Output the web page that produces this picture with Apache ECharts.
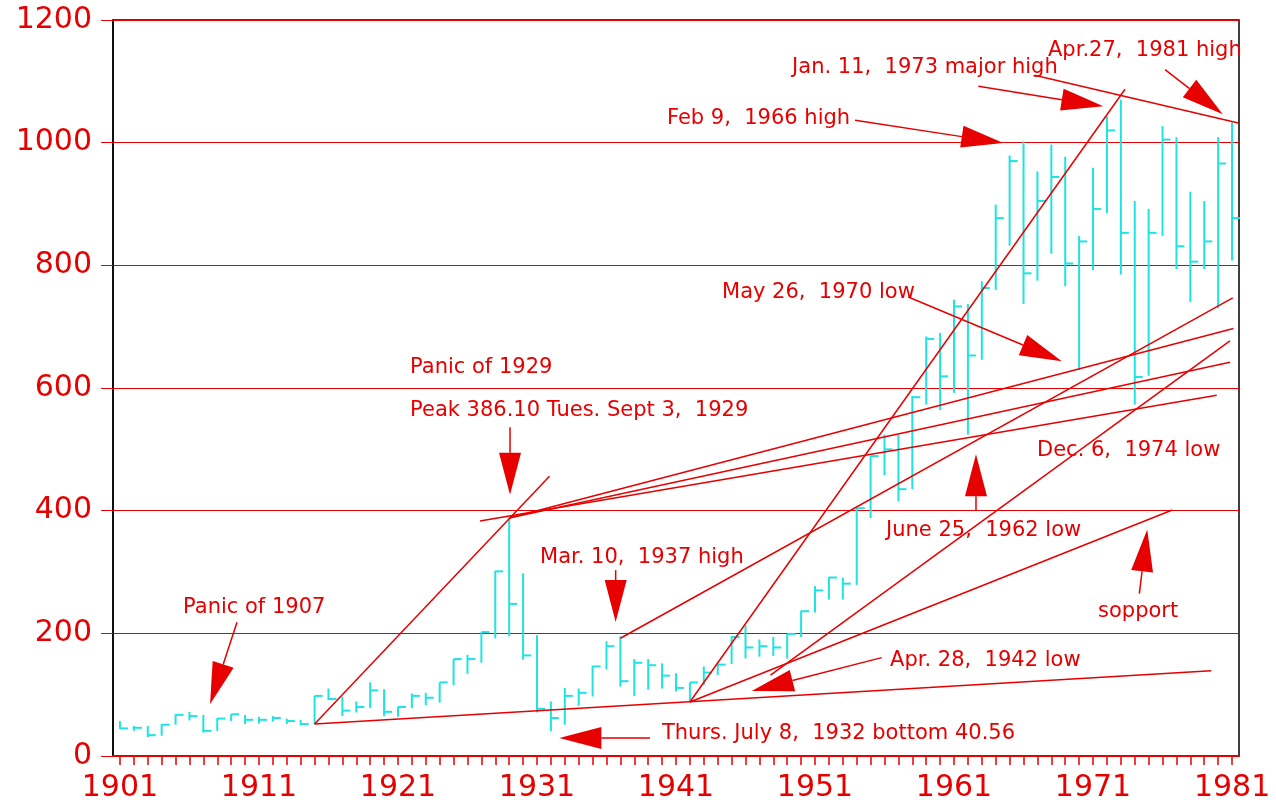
<!DOCTYPE html>
<html>
<head>
<meta charset="utf-8">
<title>Dow 1901-1981</title>
<script src="https://cdn.jsdelivr.net/npm/echarts@6/dist/echarts.min.js"></script>
<style>
	html, body { margin: 0; padding: 0; background: #fff; }
	#main { width: 1276px; height: 806px; }
</style>
</head>
<body>
<div id="main"></div>
<script>
// yearly bars: high / low / close
const years = [];
for (let y = 1901; y <= 1981; y++) years.push(String(y));

const highs = [57, 49, 49, 52, 68, 72, 67, 62, 68, 67,
	64, 65, 61, 59, 98, 110, 97, 89, 120, 109,
	80, 102, 103, 120, 158, 165, 202, 302, 386.1, 298,
	197, 89, 111, 110, 147, 187, 195, 158, 158, 151,
	135, 120, 146, 151, 195, 213, 190, 194, 199, 237,
	277, 292, 291, 405, 489, 524, 524, 587, 684, 690,
	744, 737, 774, 899, 979, 1002, 953, 997, 977, 848,
	959, 1043, 1070, 905, 892, 1027, 1009, 920, 905, 1009,
	1033];
const lows = [44, 41, 31, 33, 51, 58, 38, 41, 57, 52,
	53, 56, 52, 50, 52, 91, 65, 71, 78, 65,
	64, 78, 83, 87, 115, 134, 152, 192, 195, 157,
	71, 40.56, 51, 82, 97, 141, 113, 98, 108, 110,
	105, 89, 116, 132, 150, 159, 162, 163, 159, 194,
	234, 255, 255, 279, 388, 458, 415, 435, 573, 564,
	592, 524, 646, 760, 832, 737, 775, 819, 766, 629,
	792, 885, 785, 573, 620, 848, 794, 740, 794, 730,
	808];
const closes = [45, 46, 34, 51, 67, 65, 41, 61, 68, 59,
	59, 62, 57, 52, 98, 93, 74, 80, 107, 72,
	80, 98, 95, 120, 158, 158, 202, 301, 248, 164,
	77, 62, 98, 103, 146, 179, 122, 152, 148, 131,
	111, 120, 136, 149, 194, 177, 179, 177, 199, 236,
	270, 291, 281, 404, 489, 500, 435, 585, 680, 619,
	733, 653, 763, 877, 970, 787, 905, 944, 803, 839,
	892, 1020, 853, 618, 853, 1005, 831, 806, 839, 966,
	877];

const yTicks = [0, 200, 400, 600, 800, 1000, 1200];

// trend lines [year, value, year, value]
const trendLines = [
	[1915, 52, 1931.9, 456],
	[1915, 52, 1979.5, 139],
	[1926.9, 383, 1979.9, 588],
	[1929, 388, 1981.1, 697],
	[1929, 388, 1980.85, 642],
	[1937, 192, 1981.05, 747],
	[1947.8, 132, 1980.85, 677],
	[1942, 88, 1976.7, 401],
	[1942, 88, 1973.3, 1087],
	[1966.8, 1110, 1981.45, 1032]
];

// arrows [tail year, tail value, tip year, tip value]
const arrows = [
	[1909.42, 218, 1907.48, 84.3],
	[1929.06, 536, 1929.06, 426],
	[1936.66, 303, 1936.66, 218.5],
	[1939.13, 29.3, 1932.61, 29.3],
	[1955.8, 160.4, 1946.45, 106],
	[1962.58, 400.6, 1962.58, 492],
	[1974.33, 264.8, 1974.9, 369.2],
	[1957.71, 748.4, 1968.75, 643.6],
	[1953.88, 1036.5, 1964.55, 999.5],
	[1962.75, 1092, 1971.74, 1059.3],
	[1976.18, 1119.2, 1980.33, 1046.3]
];

// notes (left edge year, middle value)
const noteTexts = [
	'Panic of 1907',
	'Panic of 1929',
	'Peak 386.10 Tues. Sept 3,  1929',
	'Mar. 10,  1937 high',
	'Thurs. July 8,  1932 bottom 40.56',
	'Apr. 28,  1942 low',
	'June 25,  1962 low',
	'Dec. 6,  1974 low',
	'sopport',
	'May 26,  1970 low',
	'Feb 9,  1966 high',
	'Jan. 11,  1973 major high',
	'Apr.27,  1981 high'
];
const noteYears = [1905.54, 1921.87, 1921.87, 1931.22, 1939.99, 1956.4, 1956.11,
	1966.97, 1971.36, 1944.31, 1940.35, 1949.35, 1967.76];
const noteValues = [242.5, 633.8, 563.7, 324, 37, 156, 368,
	498.5, 235.9, 756.1, 1039.8, 1122.9, 1150.7];

const RED = '#e60000';
const CYAN = '#1fe3e3';

let myChart = echarts.init(document.getElementById('main'), null, { renderer: 'canvas' });

let option = {
	backgroundColor: '#fff',
	animation: false,
	grid: {
		left: 113, right: 37, top: 20, bottom: 50,
		show: true, borderColor: '#000', borderWidth: 1.5,
		outerBoundsMode: 'none'
	},
	xAxis: [{
		type: 'category',
		data: years,
		boundaryGap: true,
		axisLine: { show: true, lineStyle: { color: RED, width: 2 } },
		axisTick: { show: true, alignWithLabel: true, interval: 0, length: 9, lineStyle: { color: RED, width: 1.5 } },
		axisLabel: { interval: 9, color: RED, fontSize: 30, fontFamily: 'DejaVu Sans', margin: 17 },
		splitLine: { show: false }
	}, {
		// hidden year scale for the drawn lines and notes
		type: 'value',
		min: 1900.5,
		max: 1981.5,
		show: false
	}],
	yAxis: {
		type: 'value',
		min: yTicks[0],
		max: yTicks[yTicks.length - 1],
		interval: 200,
		axisLine: { show: true, lineStyle: { color: '#000', width: 1.5 } },
		axisTick: { show: true, length: 12, lineStyle: { color: RED, width: 1 } },
		axisLabel: {
			color: RED, fontSize: 30, fontFamily: 'DejaVu Sans', margin: 21,
			formatter: v => String(v)
		},
		splitLine: { show: true, lineStyle: { color: RED, width: 1.2 } }
	},
	series: [{
		type: 'custom',
		name: 'bars',
		xAxisIndex: 0,
		data: years.map((y, i) => [i, lows[i], highs[i], closes[i]]),
		renderItem(params, api) {
			let hi = api.coord([api.value(0), api.value(2)]);
			let lo = api.coord([api.value(0), api.value(1)]);
			let cl = api.coord([api.value(0), api.value(3)]);
			return {
				type: 'group',
				children: [
					{ type: 'line', shape: { x1: hi[0], y1: hi[1], x2: lo[0], y2: lo[1] }, style: { stroke: CYAN, lineWidth: 2 } },
					{ type: 'line', shape: { x1: cl[0], y1: cl[1], x2: cl[0] + 8, y2: cl[1] }, style: { stroke: CYAN, lineWidth: 2 } }
				]
			};
		}
	}, {
		type: 'custom',
		name: 'trend',
		xAxisIndex: 1,
		data: trendLines,
		renderItem(params, api) {
			let a = api.coord([api.value(0), api.value(1)]);
			let b = api.coord([api.value(2), api.value(3)]);
			return { type: 'line', shape: { x1: a[0], y1: a[1], x2: b[0], y2: b[1] }, style: { stroke: RED, lineWidth: 1.5 } };
		}
	}, {
		type: 'custom',
		name: 'arrows',
		xAxisIndex: 1,
		data: arrows,
		renderItem(params, api) {
			let t = api.coord([api.value(0), api.value(1)]);
			let p = api.coord([api.value(2), api.value(3)]);
			let dx = p[0] - t[0], dy = p[1] - t[1];
			let len = Math.sqrt(dx * dx + dy * dy);
			let ux = dx / len, uy = dy / len;
			// arrow head
			let mx = p[0] - ux * 42, my = p[1] - uy * 42;
			let nx = -uy * 11, ny = ux * 11;
			return {
				type: 'group',
				children: [
					{ type: 'line', shape: { x1: t[0], y1: t[1], x2: mx, y2: my }, style: { stroke: RED, lineWidth: 1.5 } },
					{ type: 'polygon', shape: { points: [[p[0], p[1]], [mx + nx, my + ny], [mx - nx, my - ny]] }, style: { fill: RED } }
				]
			};
		}
	}, {
		type: 'custom',
		name: 'notes',
		xAxisIndex: 1,
		data: noteYears.map((y, i) => [y, noteValues[i]]),
		renderItem(params, api) {
			let pt = api.coord([api.value(0), api.value(1)]);
			return {
				type: 'text',
				x: pt[0],
				y: pt[1],
				style: {
					text: noteTexts[params.dataIndex],
					fill: RED,
					fontSize: 21,
					fontFamily: 'DejaVu Sans',
					align: 'left',
					verticalAlign: 'middle'
				}
			};
		}
	}]
};

myChart.setOption(option);
</script>
</body>
</html>
